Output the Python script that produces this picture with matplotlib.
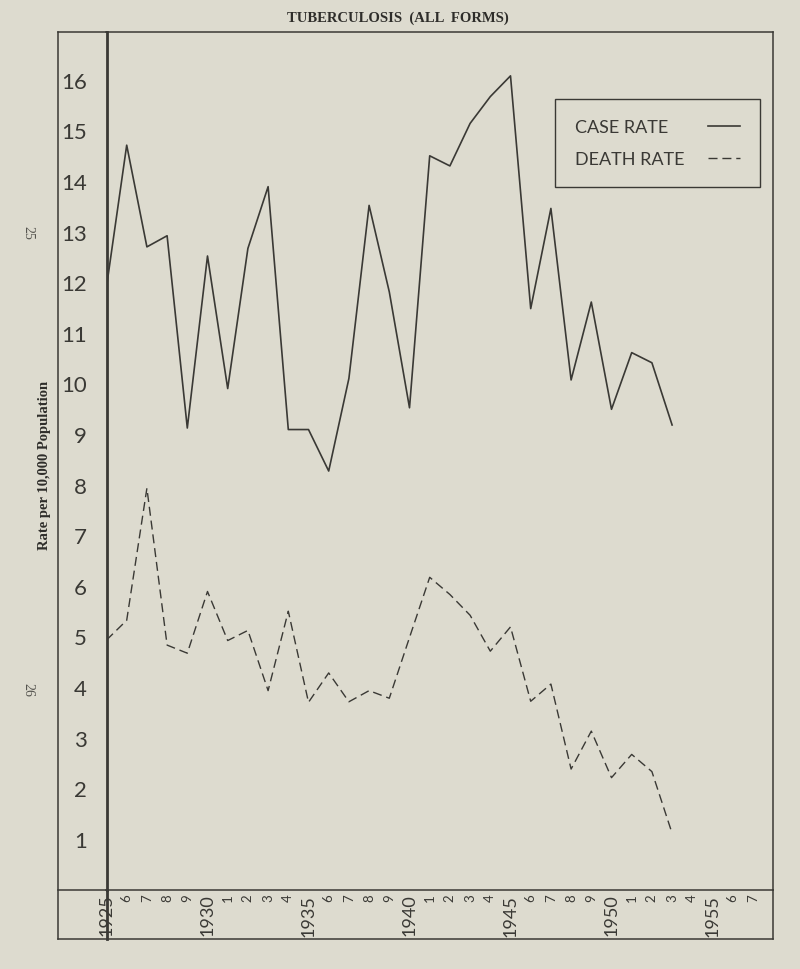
import matplotlib
matplotlib.use("Agg")
import matplotlib.pyplot as plt

years = list(range(1925, 1954))
case_rate = [11.91, 14.71, 12.70, 12.92, 9.12, 12.52, 9.90, 12.67, 13.89, 9.09,
             9.09, 8.27, 10.10, 13.52, 11.81, 9.52, 14.50, 14.30, 15.14, 15.67,
             16.08, 11.48, 13.46, 10.07, 11.61, 9.49, 10.61, 10.41, 9.18]
death_rate = [4.93, 5.32, 7.93, 4.83, 4.67, 5.89, 4.92, 5.12, 3.93, 5.50,
              3.70, 4.28, 3.71, 3.93, 3.78, 4.98, 6.17, 5.83, 5.42, 4.71,
              5.19, 3.72, 4.06, 2.38, 3.13, 2.21, 2.67, 2.33, 1.11]
tick_years = list(range(1925, 1958))
tick_labels = [str(y) if y % 5 == 0 else str(y % 10) for y in tick_years]
y_ticks = list(range(1, 17))

BG = "#dddbcf"
INK = "#3a3935"
HAND = ["Lato", "DejaVu Sans"]
SERIF = ["Liberation Serif", "DejaVu Serif"]

fig = plt.figure(figsize=(8, 9.7), dpi=100, facecolor=BG)
ax = fig.add_axes([106.5 / 800, 1 - 890.5 / 970, (773 - 106.5) / 800, (890.5 - 33) / 970])
ax.set_facecolor(BG)

ax.plot(years, case_rate, color=INK, lw=1.2, label="CASE RATE")
ax.plot(years, death_rate, color=INK, lw=1.0, dashes=(6.5, 3.5), label="DEATH RATE")

ax.set_xlim(1925, 1925 + 666.5 / 20.2)
ax.set_ylim(0, (890.5 - 33) / 50.6)

ax.set_yticks(y_ticks)
ax.set_yticklabels([str(v) for v in y_ticks], family=HAND, weight="normal",
                   fontsize=16, color=INK)
ax.tick_params(axis="y", length=0, pad=14)

ax.set_xticks(tick_years)
ax.set_xticklabels(tick_labels, rotation=90, family=HAND, weight="normal", color=INK)
for lab, y in zip(ax.get_xticklabels(), tick_years):
    lab.set_fontsize(13 if y % 5 == 0 else 9.5)
ax.tick_params(axis="x", length=0, pad=3)

for s in ["top", "right", "bottom"]:
    ax.spines[s].set_color(INK)
    ax.spines[s].set_linewidth(1.1)
ax.spines["left"].set_color(INK)
ax.spines["left"].set_linewidth(2.0)

# outer frame extensions
L = -48.5 / 666.5
B = -49.5 / 857.5
kw = dict(transform=ax.transAxes, clip_on=False, color=INK, lw=1.1)
ax.plot([L, 0], [1, 1], **kw)
ax.plot([L, L], [1, B], **kw)
ax.plot([L, 1], [B, B], **kw)
ax.plot([1, 1], [0, B], **kw)
ax.plot([L, 0], [0, 0], **kw)
ax.plot([0, 0], [0, B], transform=ax.transAxes, clip_on=False, color=INK, lw=2.0)

leg = ax.legend(loc="upper right", bbox_to_anchor=((760 - 106.5) / 666.5, (890.5 - 100) / 857.5),
                markerfirst=False, frameon=True, fancybox=False, framealpha=1,
                facecolor=BG, edgecolor=INK,
                prop={"family": HAND, "weight": "normal", "size": 13},
                handlelength=1.8, handletextpad=1.3, borderpad=1.1, labelspacing=0.9,
                borderaxespad=0)
leg.get_frame().set_linewidth(1.0)
for t in leg.get_texts():
    t.set_color(INK)

# left-align the legend labels while keeping the handles in one column
renderer = fig.canvas.get_renderer()
texts = leg.get_texts()
widths = [t.get_window_extent(renderer).width for t in texts]
maxw = max(widths)
for col in leg._legend_handle_box.get_children():
    col.align = "left"
    for row, w in zip(col.get_children(), widths):
        row.sep += (maxw - w) * 72.0 / fig.dpi

fig.text(0.497, 1 - 18 / 970, "TUBERCULOSIS  (ALL  FORMS)", ha="center", va="center",
         family=SERIF, weight="bold", fontsize=10.5, color="#2e2d2a")
fig.text(45 / 800, 1 - 465 / 970, "Rate per 10,000 Population", ha="center", va="center",
         rotation=90, family=SERIF, weight="bold", fontsize=10.5, color="#2e2d2a")
fig.text(28 / 800, 1 - 233 / 970, "25", ha="center", va="center", rotation=-90,
         family=SERIF, fontsize=10, color="#55544f")
fig.text(28 / 800, 1 - 690 / 970, "26", ha="center", va="center", rotation=-90,
         family=SERIF, fontsize=10, color="#55544f")

fig.savefig("out.png", dpi=100, facecolor=BG)
